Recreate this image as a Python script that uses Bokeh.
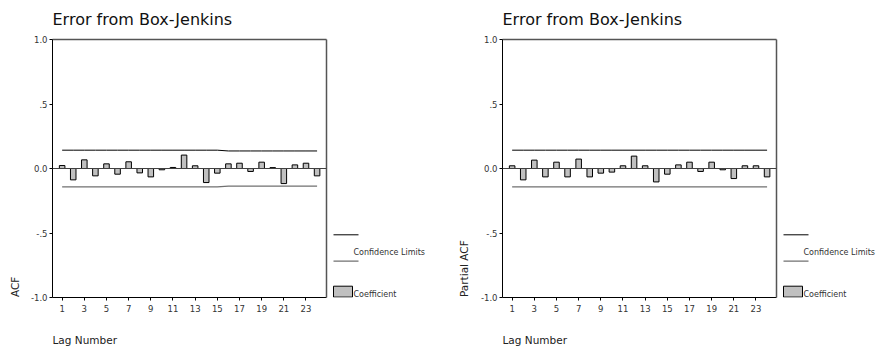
from bokeh.plotting import figure
from bokeh.layouts import row, column
from bokeh.models import Range1d, FixedTicker, LinearAxis, Span
from bokeh.core.properties import value
from bokeh.embed import file_html
from bokeh.resources import INLINE

# ---- data ----
lags = [1, 2, 3, 4, 5, 6, 7, 8, 9, 10, 11, 12, 13, 14, 15, 16, 17, 18, 19, 20, 21, 22, 23, 24]
acf = [0.023, -0.088, 0.067, -0.057, 0.036, -0.044, 0.052, -0.034, -0.065, -0.010, 0.008, 0.104,
       0.021, -0.109, -0.036, 0.036, 0.041, -0.023, 0.049, 0.007, -0.117, 0.028, 0.041, -0.057]
pacf = [0.021, -0.088, 0.065, -0.065, 0.049, -0.065, 0.073, -0.065, -0.036, -0.028, 0.021, 0.096,
        0.021, -0.104, -0.044, 0.028, 0.049, -0.023, 0.049, -0.010, -0.078, 0.021, 0.021, -0.065]
acf_upper = [0.142, 0.142, 0.142, 0.142, 0.142, 0.142, 0.142, 0.142, 0.142, 0.142, 0.142, 0.142,
             0.142, 0.142, 0.142, 0.136, 0.136, 0.136, 0.136, 0.136, 0.136, 0.136, 0.136, 0.136]
acf_lower = [-0.142, -0.142, -0.142, -0.142, -0.142, -0.142, -0.142, -0.142, -0.142, -0.142, -0.142, -0.142,
             -0.142, -0.142, -0.142, -0.136, -0.136, -0.136, -0.136, -0.136, -0.136, -0.136, -0.136, -0.136]
pacf_upper = [0.142] * 24
pacf_lower = [-0.142] * 24
x_ticks = [1, 3, 5, 7, 9, 11, 13, 15, 17, 19, 21, 23]
y_ticks = [-1.0, -0.5, 0.0, 0.5, 1.0]
y_tick_labels = {-1.0: "-1.0", -0.5: "-.5", 0.0: "0.0", 0.5: ".5", 1.0: "1.0"}
title_text = "Error from Box-Jenkins"
x_label = "Lag Number"
acf_label = "ACF"
pacf_label = "Partial ACF"
legend_conf = "Confidence Limits"
legend_coef = "Coefficient"

FONT = "DejaVu Sans"
BAR_FILL = "#c0c0c0"
FRAME_GRAY = "#555555"
LOWER_GRAY = "#707070"
TEXT = "#222222"

# page bands (pixels)
TOP_H = 30        # 0..30    title strip
MID_H = 290       # 30..320  chart strip (frame 39..297)
BOT_H = 27        # 320..347 x-label strip
FRAME_TOP = 39
FRAME_BOTTOM = 297
BORDER_TOP = FRAME_TOP - TOP_H
BORDER_BOTTOM = TOP_H + MID_H - FRAME_BOTTOM


def blank(x0, x1, y0, y1, mid=False):
    kw = {}
    if mid:
        kw = dict(min_border_top=BORDER_TOP, min_border_bottom=BORDER_BOTTOM,
                  min_border_left=0, min_border_right=0)
        yr = Range1d(FRAME_BOTTOM, FRAME_TOP)
    else:
        kw = dict(min_border=0)
        yr = Range1d(y1, y0)
    q = figure(width=int(round(x1 - x0)), height=int(round(y1 - y0)),
               x_range=Range1d(x0, x1), y_range=yr,
               x_axis_type=None, y_axis_type=None,
               output_backend="svg", toolbar_location=None,
               background_fill_color="white", border_fill_color="white", **kw)
    q.outline_line_color = None
    q.xgrid.visible = False
    q.ygrid.visible = False
    return q


def chart(values, upper, lower, border_left):
    p = figure(frame_width=274, frame_height=FRAME_BOTTOM - FRAME_TOP,
               min_border_left=border_left, min_border_right=4,
               min_border_top=BORDER_TOP, min_border_bottom=BORDER_BOTTOM,
               x_range=Range1d(0.13, 24.85), y_range=Range1d(-1.0, 1.0),
               output_backend="svg", toolbar_location=None,
               background_fill_color="white", border_fill_color="white")
    p.outline_line_color = None
    p.xgrid.visible = False
    p.ygrid.visible = False

    for ax in (p.xaxis[0], p.yaxis[0]):
        ax.axis_line_color = "black"
        ax.axis_line_width = 1
        ax.major_tick_line_color = "black"
        ax.major_tick_in = 0
        ax.major_tick_out = 3
        ax.minor_tick_line_color = None
        ax.major_label_text_font = FONT
        ax.major_label_text_font_size = "8.5px"
        ax.major_label_text_color = "#333333"
    p.xaxis[0].ticker = FixedTicker(ticks=x_ticks)
    p.xaxis[0].major_label_standoff = 4
    p.yaxis[0].ticker = FixedTicker(ticks=y_ticks)
    p.yaxis[0].major_label_overrides = y_tick_labels
    p.yaxis[0].major_label_standoff = 2

    for side in ("right", "above"):
        ax = LinearAxis(ticker=FixedTicker(ticks=[]), axis_line_color=FRAME_GRAY,
                        axis_line_width=1.5, major_tick_line_color=None,
                        minor_tick_line_color=None, major_label_text_font_size="0px")
        p.add_layout(ax, side)

    p.vbar(x=lags, top=values, bottom=0, width=0.5,
           fill_color=BAR_FILL, line_color="black", line_width=1)
    p.line(x=lags, y=upper, line_color="black", line_width=1)
    p.line(x=lags, y=lower, line_color=LOWER_GRAY, line_width=1.2)
    p.add_layout(Span(location=0, dimension="width", line_color="#404040", line_width=1))
    return p


def add_legend(q, lx):
    q.line(x=[lx, lx + 25], y=[234.3, 234.3], line_color="black", line_width=1)
    q.line(x=[lx, lx + 25], y=[260.7, 260.7], line_color=LOWER_GRAY, line_width=1.2)
    q.quad(left=[lx], right=[lx + 19], top=[285.7], bottom=[296.6],
           fill_color=BAR_FILL, line_color="black", line_width=1)
    q.text(x=[lx + 20], y=[252.0], text=[legend_conf], text_font=value(FONT),
           text_font_size="8px", text_color="#333333", text_align="left", text_baseline="middle")
    q.text(x=[lx + 20], y=[293.5], text=[legend_coef], text_font=value(FONT),
           text_font_size="8px", text_color="#333333", text_align="left", text_baseline="middle")


def panel(x0, x_ylab, x_chart_end, x1, frame_left, values, upper, lower, ylabel, ylabel_x):
    top = blank(x0, x1, 0, TOP_H)
    top.text(x=[frame_left], y=[18.5], text=[title_text], text_font=value(FONT),
             text_font_size="16px", text_color="#111111",
             text_align="left", text_baseline="middle")

    ylab = blank(x0, x_ylab, TOP_H, TOP_H + MID_H, mid=True)
    ylab.text(x=[ylabel_x], y=[296.5], text=[ylabel], text_font=value(FONT),
              text_font_size="10.5px", text_color=TEXT, angle=1.5707963,
              text_align="left", text_baseline="middle")

    ch = chart(values, upper, lower, int(frame_left - x_ylab))

    leg = blank(x_chart_end, x1, TOP_H, TOP_H + MID_H, mid=True)
    add_legend(leg, x_chart_end + 3)

    bot = blank(x0, x1, TOP_H + MID_H, TOP_H + MID_H + BOT_H)
    bot.text(x=[frame_left], y=[339.0], text=[x_label], text_font=value(FONT),
             text_font_size="10.5px", text_color=TEXT,
             text_align="left", text_baseline="middle")
    return column(top, row(ylab, ch, leg), bot)


left = panel(0, 24, 330, 440, 52, acf, acf_upper, acf_lower, acf_label, 14)
right = panel(440, 470, 780, 878, 502, pacf, pacf_upper, pacf_lower, pacf_label, 463)

layout = row(left, right)
open("out.html", "w").write(file_html(layout, INLINE))
